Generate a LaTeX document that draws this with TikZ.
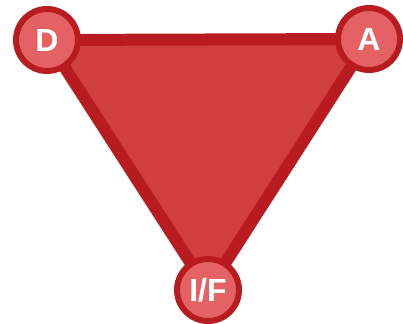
\documentclass[tikz,border=0pt]{standalone}
\usepackage{fontspec}
\setsansfont{Liberation Sans}
\usetikzlibrary{backgrounds}

\definecolor{darkred}{RGB}{184,28,32}
\definecolor{midred}{RGB}{208,62,63}
\definecolor{lightred}{RGB}{228,98,100}

\begin{document}
\begin{tikzpicture}[
    x=1pt, y=1pt,
    every node/.style={circle, draw=darkred, line width=6pt, fill=lightred,
        minimum size=62pt, inner sep=0pt, text=white,
        font=\sffamily\bfseries\fontsize{32}{32}\selectfont},
    edge/.style={draw=darkred, fill=midred, line width=12pt, line join=round}
]
\useasboundingbox (0,0) rectangle (403,323);

\node (D) at (47,283) {D};
\node (A) at (369,284) {A};
\node (IF) at (208,33) {I/F};

\begin{scope}[on background layer]
    \draw[edge] (D.center) -- (A.center) -- (IF.center) -- cycle;
\end{scope}

\end{tikzpicture}
\end{document}
